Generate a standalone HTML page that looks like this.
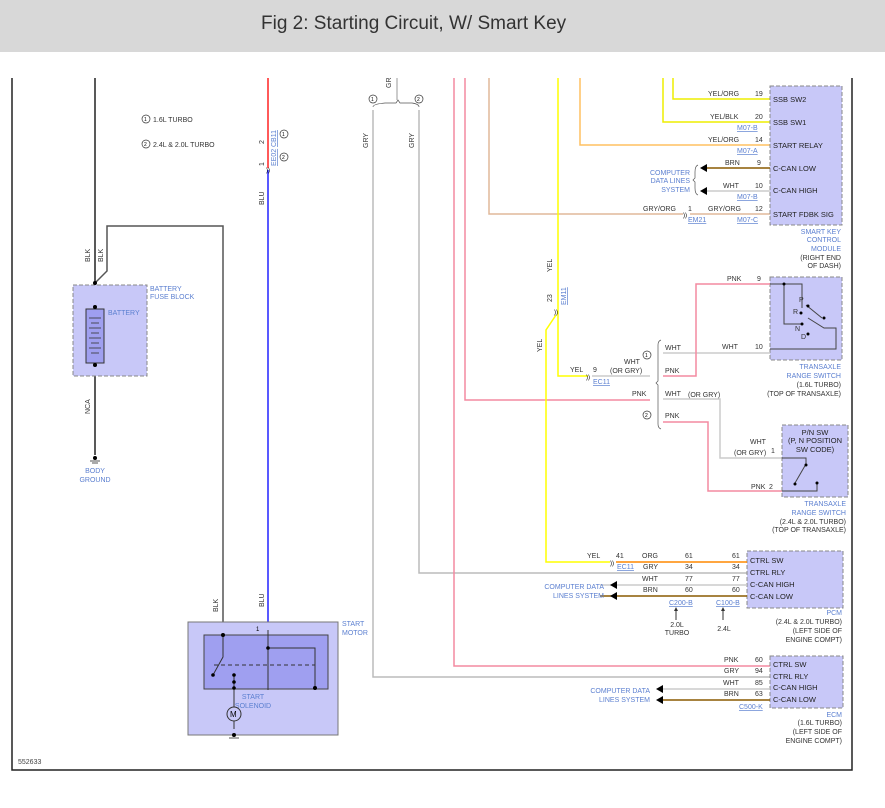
<!DOCTYPE html>
<html><head><meta charset="utf-8"><style>
body{margin:0;background:#fff}
svg{display:block;font-family:"Liberation Sans",sans-serif}
.t{font-size:7px;fill:#333}
.b{font-size:7px;fill:#5b7fd0}
.m{font-size:7.5px;fill:#222}
.u{font-size:7px;fill:#5b7fd0;text-decoration:underline}
</style></head><body>
<svg width="885" height="808" viewBox="0 0 885 808" xmlns="http://www.w3.org/2000/svg">
<rect x="0" y="0" width="885" height="52" fill="#d8d8d8"/>
<text x="261" y="29" font-size="19" fill="#333">Fig 2: Starting Circuit, W/ Smart Key</text>
<path d="M12 78V770H852V78" fill="none" stroke="#222" stroke-width="1.5"/>
<text x="18" y="764" font-size="7" fill="#444">552633</text>

<circle cx="146" cy="119" r="4" fill="none" stroke="#333" stroke-width=".7"/><text x="144" y="121" font-size="5">1</text>
<text x="153" y="122" class="t">1.6L TURBO</text>
<circle cx="146" cy="144" r="4" fill="none" stroke="#333" stroke-width=".7"/><text x="144" y="146" font-size="5">2</text>
<text x="153" y="147" class="t">2.4L &amp; 2.0L TURBO</text>

<line x1="95" y1="78" x2="95" y2="455" stroke="#222" stroke-width="1.5"/>
<path d="M95 283L107 271V226H223V630" fill="none" stroke="#555" stroke-width="1.5"/>
<text transform="translate(90,262) rotate(-90)" class="t">BLK</text>
<text transform="translate(103,262) rotate(-90)" class="t">BLK</text>
<rect x="73" y="285" width="74" height="91" fill="#c8c8f8" stroke="#888" stroke-dasharray="4,2"/>
<rect x="86" y="309" width="18" height="54" fill="#9f9ff0" stroke="#333"/>
<g stroke="#333" stroke-width=".8"><line x1="89" y1="318" x2="101" y2="318"/><line x1="91" y1="323" x2="99" y2="323"/><line x1="89" y1="328" x2="101" y2="328"/><line x1="91" y1="333" x2="99" y2="333"/><line x1="89" y1="338" x2="101" y2="338"/><line x1="91" y1="343" x2="99" y2="343"/><line x1="89" y1="348" x2="101" y2="348"/><line x1="91" y1="353" x2="99" y2="353"/></g>
<circle cx="95" cy="283" r="2" fill="#000"/><circle cx="95" cy="307" r="2" fill="#000"/><circle cx="95" cy="365" r="2" fill="#000"/>
<text x="108" y="315" class="b">BATTERY</text>
<text x="150" y="291" class="b">BATTERY</text><text x="150" y="299" class="b">FUSE BLOCK</text>
<text transform="translate(90,414) rotate(-90)" class="t">NCA</text>
<circle cx="95" cy="458" r="2" fill="#000"/><line x1="90" y1="461" x2="100" y2="461" stroke="#555"/><line x1="92" y1="463" x2="98" y2="463" stroke="#555"/>
<text x="95" y="473" class="b" text-anchor="middle">BODY</text><text x="95" y="482" class="b" text-anchor="middle">GROUND</text>

<line x1="268" y1="78" x2="268" y2="168" stroke="#f22" stroke-width="1.5"/>
<line x1="268" y1="170" x2="268" y2="628" stroke="#22f" stroke-width="1.5"/>
<text x="266" y="172" font-size="6">))</text>
<text transform="translate(264,144) rotate(-90)" class="t">2</text>
<text transform="translate(264,166) rotate(-90)" class="t">1</text>
<text transform="translate(276,147) rotate(-90)" class="u">CB11</text>
<text transform="translate(276,166) rotate(-90)" class="u">EE02</text>
<circle cx="284" cy="134" r="4" fill="none" stroke="#333" stroke-width=".7"/><text x="282" y="136" font-size="5">1</text>
<circle cx="284" cy="157" r="4" fill="none" stroke="#333" stroke-width=".7"/><text x="282" y="159" font-size="5">2</text>
<text transform="translate(264,205) rotate(-90)" class="t">BLU</text>
<text transform="translate(218,612) rotate(-90)" class="t">BLK</text>
<text transform="translate(264,607) rotate(-90)" class="t">BLU</text>

<rect x="188" y="622" width="150" height="113" fill="#c8c8f8" stroke="#777"/>
<rect x="204" y="635" width="124" height="54" fill="#9f9ff0" stroke="#444"/>
<text x="342" y="626" class="b">START</text><text x="342" y="635" class="b">MOTOR</text>
<text x="253" y="699" class="b" text-anchor="middle">START</text><text x="253" y="708" class="b" text-anchor="middle">SOLENOID</text>
<g stroke="#333" fill="none" stroke-width="1">
<path d="M223 635V657L213 675"/><path d="M234 675V729"/>
<path d="M268 630V690"/><path d="M268 648H315V690"/>
<line x1="214" y1="665" x2="315" y2="665" stroke-dasharray="4,3"/>
</g>
<circle cx="223" cy="635" r="2" fill="#000"/><circle cx="213" cy="675" r="1.8" fill="#000"/>
<circle cx="234" cy="675" r="1.8" fill="#000"/><circle cx="234" cy="682" r="1.8" fill="#000"/><circle cx="234" cy="688" r="1.8" fill="#000"/>
<circle cx="268" cy="648" r="1.8" fill="#000"/><circle cx="315" cy="688" r="2" fill="#000"/>
<circle cx="234" cy="714" r="7" fill="#c8c8f8" stroke="#333"/><text x="230" y="717" font-size="8">M</text>
<circle cx="234" cy="735" r="2" fill="#000"/><line x1="229" y1="738" x2="239" y2="738" stroke="#555"/>
<text x="256" y="631" font-size="6">1</text>

<path d="M373 110V677H770" fill="none" stroke="#bbb" stroke-width="1.5"/>
<path d="M419 110V573H747" fill="none" stroke="#bbb" stroke-width="1.5"/>
<path d="M373 107 Q373 104 385 103 H396 L398 100 L400 103 H412 Q419 104 419 107" fill="none" stroke="#555" stroke-width=".7"/>
<line x1="397" y1="78" x2="397" y2="100" stroke="#bbb" stroke-width="1.5"/>
<text transform="translate(391,88) rotate(-90)" class="t">GR</text>
<circle cx="373" cy="99" r="4" fill="none" stroke="#333" stroke-width=".7"/><text x="371" y="101" font-size="5">1</text>
<circle cx="419" cy="99" r="4" fill="none" stroke="#333" stroke-width=".7"/><text x="417" y="101" font-size="5">2</text>
<text transform="translate(368,148) rotate(-90)" class="t">GRY</text>
<text transform="translate(414,148) rotate(-90)" class="t">GRY</text>

<path d="M454 78V666H770" fill="none" stroke="#f48aa0" stroke-width="1.5"/>
<path d="M465 78V400H650" fill="none" stroke="#f48aa0" stroke-width="1.5"/>
<path d="M489 78V214H683" fill="none" stroke="#e0b89a" stroke-width="1.5"/>
<path d="M690 214H770" fill="none" stroke="#e0b89a" stroke-width="1.5"/>
<text x="683" y="217" font-size="6">))</text>
<path d="M558 78V376H588" fill="none" stroke="#ff0" stroke-width="1.5"/>
<path d="M556 315L546 330V562H610" fill="none" stroke="#ff0" stroke-width="1.5"/>
<path d="M580 78V145H770" fill="none" stroke="#ffc060" stroke-width="1.5"/>
<path d="M663 78V122H770" fill="none" stroke="#ee0" stroke-width="1.5"/>
<path d="M673 78V99H770" fill="none" stroke="#ee0" stroke-width="1.5"/>
<text transform="translate(552,272) rotate(-90)" class="t">YEL</text>
<text transform="translate(542,352) rotate(-90)" class="t">YEL</text>
<text transform="translate(552,302) rotate(-90)" class="t">23</text>
<text transform="translate(566,305) rotate(-90)" class="u">EM11</text>
<text x="554" y="314" font-size="6">))</text>

<rect x="770" y="86" width="72" height="139" fill="#c8c8f8" stroke="#888" stroke-dasharray="4,2"/>
<g class="m"><text x="773" y="102">SSB SW2</text><text x="773" y="125">SSB SW1</text><text x="773" y="148">START RELAY</text><text x="773" y="171">C-CAN LOW</text><text x="773" y="193">C-CAN HIGH</text><text x="773" y="217">START FDBK SIG</text></g>
<g class="t"><text x="708" y="96">YEL/ORG</text><text x="755" y="96">19</text><text x="710" y="119">YEL/BLK</text><text x="755" y="119">20</text><text x="708" y="142">YEL/ORG</text><text x="755" y="142">14</text><text x="725" y="165">BRN</text><text x="757" y="165">9</text><text x="723" y="188">WHT</text><text x="755" y="188">10</text><text x="708" y="211">GRY/ORG</text><text x="755" y="211">12</text><text x="643" y="211">GRY/ORG</text><text x="688" y="211">1</text></g>
<text x="737" y="130" class="u">M07-B</text><text x="737" y="153" class="u">M07-A</text><text x="737" y="199" class="u">M07-B</text><text x="737" y="222" class="u">M07-C</text><text x="688" y="222" class="u">EM21</text>
<line x1="705" y1="168" x2="770" y2="168" stroke="#8a5a00" stroke-width="1.5"/>
<line x1="705" y1="191" x2="770" y2="191" stroke="#ccc" stroke-width="1.5"/>
<path d="M700 168l7-4v8z M700 191l7-4v8z" fill="#000"/>
<path d="M698 165 Q695 166 695 172 V178 L693 180 L695 182 V188 Q695 194 698 195" fill="none" stroke="#555" stroke-width=".7"/>
<g class="b" text-anchor="end"><text x="690" y="175">COMPUTER</text><text x="690" y="183">DATA LINES</text><text x="690" y="192">SYSTEM</text></g>
<g class="b" text-anchor="end"><text x="841" y="234">SMART KEY</text><text x="841" y="242">CONTROL</text><text x="841" y="251">MODULE</text></g>
<g class="t" text-anchor="end"><text x="841" y="260">(RIGHT END</text><text x="841" y="268">OF DASH)</text></g>

<rect x="770" y="277" width="72" height="83" fill="#c8c8f8" stroke="#888" stroke-dasharray="4,2"/>
<path d="M770 284H784V324H802 M784 284H802V308 M808 318L824 328H836V349H770" fill="none" stroke="#444"/>
<path d="M806 305L822 318" stroke="#444"/>
<g fill="#000"><circle cx="784" cy="284" r="1.5"/><circle cx="808" cy="306" r="1.5"/><circle cx="801" cy="313" r="1.5"/><circle cx="802" cy="324" r="1.5"/><circle cx="808" cy="334" r="1.5"/><circle cx="824" cy="318" r="1.5"/></g>
<g class="t"><text x="799" y="302">P</text><text x="793" y="314">R</text><text x="795" y="331">N</text><text x="801" y="339">D</text></g>
<g class="t"><text x="727" y="281">PNK</text><text x="757" y="281">9</text><text x="722" y="349">WHT</text><text x="755" y="349">10</text><text x="665" y="350">WHT</text><text x="665" y="373">PNK</text><text x="624" y="364">WHT</text><text x="610" y="373">(OR GRY)</text><text x="632" y="396">PNK</text><text x="665" y="396">WHT</text><text x="688" y="397">(OR GRY)</text><text x="665" y="418">PNK</text><text x="570" y="372">YEL</text><text x="593" y="372">9</text></g>
<text x="593" y="384" class="u">EC11</text>
<g class="b" text-anchor="end"><text x="841" y="369">TRANSAXLE</text><text x="841" y="378">RANGE SWITCH</text></g>
<g class="t" text-anchor="end"><text x="841" y="387">(1.6L TURBO)</text><text x="841" y="396">(TOP OF TRANSAXLE)</text></g>
<line x1="592" y1="376" x2="650" y2="376" stroke="#ccc" stroke-width="1.5"/>
<text x="586" y="379" font-size="6">))</text>
<line x1="663" y1="353" x2="770" y2="353" stroke="#ccc" stroke-width="1.5"/>
<path d="M663 376H696V284H770" fill="none" stroke="#f48aa0" stroke-width="1.5"/>
<path d="M663 399H720V458H782" fill="none" stroke="#ccc" stroke-width="1.5"/>
<path d="M663 422H708V491H782" fill="none" stroke="#f48aa0" stroke-width="1.5"/>
<path d="M661 340 Q658 341 658 345 V381 L656 383 L658 385 V424 Q658 428 661 429" fill="none" stroke="#555" stroke-width=".7"/>
<circle cx="647" cy="355" r="4" fill="none" stroke="#333" stroke-width=".7"/><text x="645" y="357" font-size="5">1</text>
<circle cx="647" cy="415" r="4" fill="none" stroke="#333" stroke-width=".7"/><text x="645" y="417" font-size="5">2</text>

<rect x="782" y="425" width="66" height="72" fill="#c8c8f8" stroke="#888" stroke-dasharray="4,2"/>
<g class="m" text-anchor="middle"><text x="815" y="435">P/N SW</text><text x="815" y="443">(P, N POSITION</text><text x="815" y="452">SW CODE)</text></g>
<path d="M782 458H806V464 L795 483 M782 491H817V483" fill="none" stroke="#444"/>
<g fill="#000"><circle cx="806" cy="465" r="1.5"/><circle cx="795" cy="484" r="1.5"/><circle cx="817" cy="483" r="1.5"/></g>
<g class="t"><text x="750" y="444">WHT</text><text x="734" y="455">(OR GRY)</text><text x="771" y="453">1</text><text x="751" y="489">PNK</text><text x="769" y="489">2</text></g>
<g class="b" text-anchor="end"><text x="846" y="506">TRANSAXLE</text><text x="846" y="515">RANGE SWITCH</text></g>
<g class="t" text-anchor="end"><text x="846" y="524">(2.4L &amp; 2.0L TURBO)</text><text x="846" y="532">(TOP OF TRANSAXLE)</text></g>

<rect x="747" y="551" width="96" height="57" fill="#c8c8f8" stroke="#888" stroke-dasharray="4,2"/>
<g class="m"><text x="750" y="563">CTRL SW</text><text x="750" y="575">CTRL RLY</text><text x="750" y="587">C-CAN HIGH</text><text x="750" y="599">C-CAN LOW</text></g>
<line x1="616" y1="562" x2="747" y2="562" stroke="#f80" stroke-width="1.5"/>
<text x="610" y="565" font-size="6">))</text>
<line x1="600" y1="585" x2="747" y2="585" stroke="#ccc" stroke-width="1.5"/>
<line x1="600" y1="596" x2="747" y2="596" stroke="#8a5a00" stroke-width="1.5"/>
<path d="M610 585l7-4v8z M610 596l7-4v8z" fill="#000"/>
<g class="b" text-anchor="end"><text x="604" y="589">COMPUTER DATA</text><text x="604" y="598">LINES SYSTEM</text></g>
<g class="t"><text x="587" y="558">YEL</text><text x="616" y="558">41</text><text x="642" y="558">ORG</text><text x="685" y="558">61</text><text x="732" y="558">61</text><text x="643" y="569">GRY</text><text x="685" y="569">34</text><text x="732" y="569">34</text><text x="642" y="581">WHT</text><text x="685" y="581">77</text><text x="732" y="581">77</text><text x="643" y="592">BRN</text><text x="685" y="592">60</text><text x="732" y="592">60</text></g>
<text x="617" y="569" class="u">EC11</text><text x="669" y="605" class="u">C200-B</text><text x="716" y="605" class="u">C100-B</text>
<path d="M676 620V609 M723 620V609" stroke="#333"/><path d="M676 607l-2 4h4z M723 607l-2 4h4z" fill="#333"/>
<g class="t" text-anchor="middle"><text x="677" y="627">2.0L</text><text x="677" y="635">TURBO</text><text x="724" y="631">2.4L</text></g>
<g class="b" text-anchor="end"><text x="842" y="615">PCM</text></g>
<g class="t" text-anchor="end"><text x="842" y="624">(2.4L &amp; 2.0L TURBO)</text><text x="842" y="633">(LEFT SIDE OF</text><text x="842" y="642">ENGINE COMPT)</text></g>

<rect x="770" y="656" width="73" height="52" fill="#c8c8f8" stroke="#888" stroke-dasharray="4,2"/>
<g class="m"><text x="773" y="667">CTRL SW</text><text x="773" y="679">CTRL RLY</text><text x="773" y="690">C-CAN HIGH</text><text x="773" y="702">C-CAN LOW</text></g>
<line x1="660" y1="689" x2="770" y2="689" stroke="#ccc" stroke-width="1.5"/>
<line x1="660" y1="700" x2="770" y2="700" stroke="#8a5a00" stroke-width="1.5"/>
<path d="M656 689l7-4v8z M656 700l7-4v8z" fill="#000"/>
<g class="b" text-anchor="end"><text x="650" y="693">COMPUTER DATA</text><text x="650" y="702">LINES SYSTEM</text></g>
<g class="t"><text x="724" y="662">PNK</text><text x="755" y="662">60</text><text x="724" y="673">GRY</text><text x="755" y="673">94</text><text x="723" y="685">WHT</text><text x="755" y="685">85</text><text x="724" y="696">BRN</text><text x="755" y="696">63</text></g>
<text x="739" y="709" class="u">C500-K</text>
<g class="b" text-anchor="end"><text x="842" y="717">ECM</text></g>
<g class="t" text-anchor="end"><text x="842" y="725">(1.6L TURBO)</text><text x="842" y="734">(LEFT SIDE OF</text><text x="842" y="743">ENGINE COMPT)</text></g>
</svg>
</body></html>
